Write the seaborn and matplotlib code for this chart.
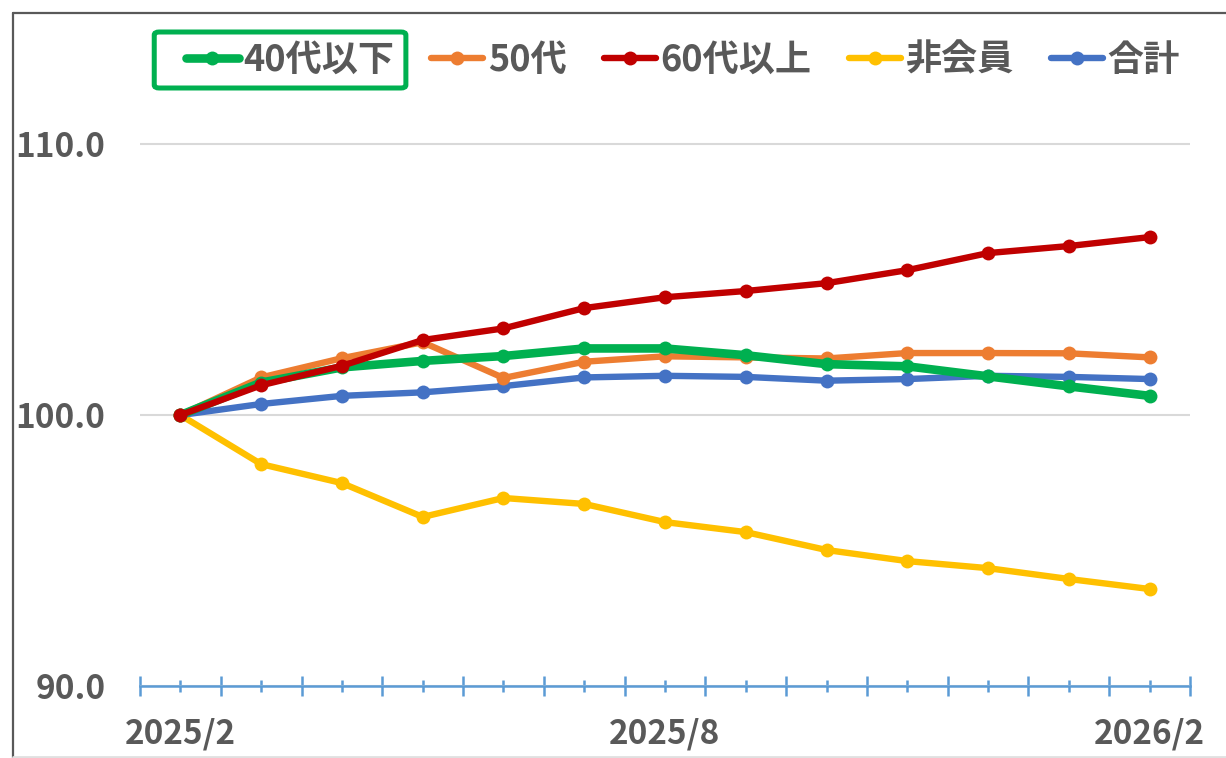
import numpy as np
import pandas as pd
import matplotlib
matplotlib.use("Agg")
import matplotlib.pyplot as plt
import seaborn as sns
from matplotlib.patches import FancyBboxPatch
from matplotlib.lines import Line2D

sns.set_theme(style="white")
plt.rcParams['font.family'] = ['Noto Sans CJK JP', 'DejaVu Sans']

months = ["2025/2", "2025/3", "2025/4", "2025/5", "2025/6", "2025/7", "2025/8",
          "2025/9", "2025/10", "2025/11", "2025/12", "2026/1", "2026/2"]
tick_labels = ["2025/2", "2025/8", "2026/2"]

age40 = [100.0, 101.2, 101.76, 102.0, 102.18, 102.46, 102.46, 102.21, 101.88, 101.8, 101.43, 101.06, 100.71]
age50 = [100.0, 101.39, 102.1, 102.69, 101.37, 101.97, 102.17, 102.13, 102.09, 102.29, 102.29, 102.28, 102.13]
age60 = [100.0, 101.1, 101.82, 102.77, 103.2, 103.95, 104.35, 104.58, 104.87, 105.35, 105.98, 106.24, 106.57]
nonmember = [100.0, 98.19, 97.49, 96.24, 96.94, 96.72, 96.05, 95.68, 95.02, 94.61, 94.35, 93.95, 93.58]
total = [100.0, 100.41, 100.71, 100.84, 101.07, 101.39, 101.45, 101.41, 101.27, 101.33, 101.45, 101.41, 101.33]

series_names = ["40代以下", "50代", "60代以上", "非会員", "合計"]
series_values = [age40, age50, age60, nonmember, total]
colors = ["#00B050", "#ED7D31", "#C00000", "#FFC000", "#4472C4"]
widths = [6.2, 4.6, 4.6, 4.6, 4.6]

rows = []
for name, vals in zip(series_names, series_values):
    for i, (m, v) in enumerate(zip(months, vals)):
        rows.append({"idx": i, "month": m, "series": name, "value": v})
df = pd.DataFrame(rows)

fig = plt.figure(figsize=(12.26, 7.58), dpi=100)
ax = fig.add_axes([140/1226, 72/758, 1050/1226, 596/758])

draw_order = ["非会員", "合計", "50代", "40代以下", "60代以上"]
zorders = {"非会員": 3, "合計": 4, "50代": 5, "40代以下": 6, "60代以上": 7}
for name in draw_order:
    k = series_names.index(name)
    sub = df[df.series == name]
    sns.lineplot(data=sub, x="idx", y="value", ax=ax, color=colors[k],
                 linewidth=widths[k], marker="o", markersize=10,
                 markeredgewidth=0, zorder=zorders[name], legend=False)

ax.set_xlim(-0.5, 12.5)
ax.set_ylim(90, 112)
ax.set_yticks([90, 100, 110])
ax.set_yticklabels([f"{v:.1f}" for v in [90, 100, 110]], fontsize=24,
                   fontweight="bold", color="#595959")
ax.yaxis.grid(True, color="#D9D9D9", linewidth=1.5)
ax.xaxis.grid(False)
ax.tick_params(axis="y", length=0, pad=25, left=False)

label_map = {m: (m if m in tick_labels else "") for m in months}
ax.set_xticks(range(len(months)))
ax.set_xticklabels([label_map[m] for m in months], fontsize=24,
                   fontweight="bold", color="#595959")
ax.set_xticks(np.arange(-0.5, 13, 1.0), minor=True)
ax.tick_params(axis="x", which="major", direction="inout", length=9,
               width=1.8, color="#5B9BD5", pad=18, bottom=True)
ax.tick_params(axis="x", which="minor", direction="inout", length=15,
               width=1.8, color="#5B9BD5", bottom=True)
ax.set_xlabel("")
ax.set_ylabel("")
for s in ["top", "right", "left"]:
    ax.spines[s].set_visible(False)
ax.spines["bottom"].set_color("#5B9BD5")
ax.spines["bottom"].set_linewidth(1.8)
ax.spines["bottom"].set_zorder(10)

handles = [Line2D([0], [0], color=c, linewidth=w, marker="o", markersize=10,
                  markeredgewidth=0) for c, w in zip(colors, widths)]
leg = fig.legend(handles, series_names, loc="center", bbox_to_anchor=(683/1226, 1 - 60/758),
                 ncol=5, frameon=False, handlelength=1.45, handletextpad=0.12,
                 columnspacing=1.03,
                 prop={"family": ["Noto Sans CJK JP", "DejaVu Sans"], "size": 26, "weight": "bold"})
for t in leg.get_texts():
    t.set_color("#595959")

fig.canvas.draw()
r = fig.canvas.get_renderer()
inv = fig.transFigure.inverted()
bb_t = leg.get_texts()[0].get_window_extent(r)
bb_h = leg.legend_handles[0].get_window_extent(r)
x0 = bb_h.x0 - 25
x1 = bb_t.x1 + 12
yc = (bb_t.y0 + bb_t.y1) / 2
y0 = yc - 28
y1 = yc + 28
(fx0, fy0) = inv.transform((x0, y0))
(fx1, fy1) = inv.transform((x1, y1))
box = FancyBboxPatch((fx0, fy0), fx1 - fx0, fy1 - fy0,
                     boxstyle="round,pad=0,rounding_size=0.004",
                     transform=fig.transFigure, fill=False,
                     edgecolor="#00B050", linewidth=3.6)
fig.add_artist(box)

# outer chart border (screenshot frame)
fig.add_artist(Line2D([13/1226, 13/1226], [0, 1 - 13/758], transform=fig.transFigure,
                      color="#595959", linewidth=1.6))
fig.add_artist(Line2D([13/1226, 1], [1 - 13/758, 1 - 13/758], transform=fig.transFigure,
                      color="#595959", linewidth=1.6))
fig.add_artist(Line2D([13/1226, 1], [1/758, 1/758], transform=fig.transFigure,
                      color="#E0E0E0", linewidth=2))

fig.savefig("out.png", dpi=100)
